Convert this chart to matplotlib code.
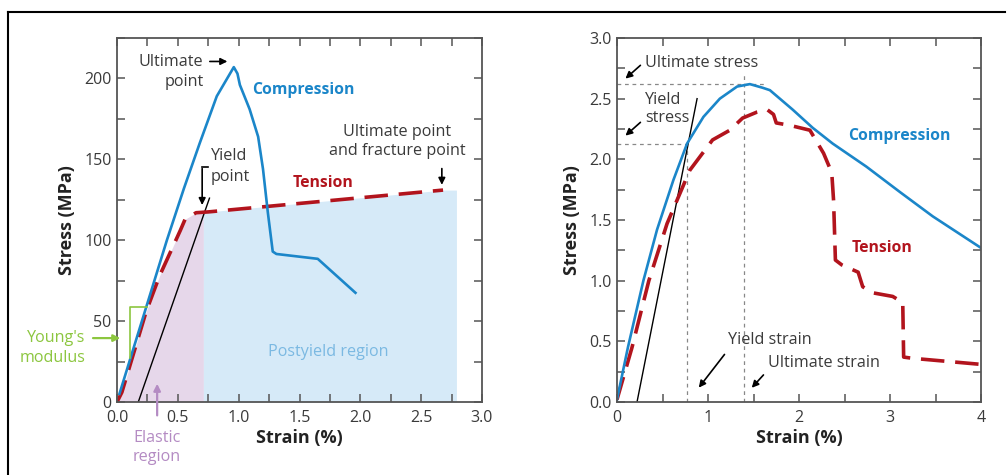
import numpy as np
import matplotlib.pyplot as plt
from matplotlib.lines import Line2D
from matplotlib.ticker import MultipleLocator

plt.rcParams['font.family'] = ['Open Sans', 'DejaVu Sans']

# left panel: stress in MPa vs strain in %
comp_l_x = [0.02, 0.41, 0.55, 0.68, 0.82, 0.96, 0.99, 1.01, 1.09, 1.16, 1.20, 1.24, 1.28, 1.31, 1.65, 1.96]
comp_l_y = [5, 100, 132, 160, 189, 207, 203, 196, 181, 164, 144, 117, 93, 91.5, 88.5, 67.5]
tens_l_x = [0.0, 0.04, 0.24, 0.35, 0.52, 0.56, 0.65, 0.75, 2.68]
tens_l_y = [0, 6, 56, 78, 106, 113, 117, 117.5, 131]
yield_l_x = [0.175, 0.76]
yield_l_y = [0, 126]
elastic_end = 0.71
postyield_end = 2.79
xticks_l = [0.0, 0.5, 1.0, 1.5, 2.0, 2.5, 3.0]
yticks_l = [0, 50, 100, 150, 200]

# right panel
comp_r_x = [0, 0.12, 0.29, 0.44, 0.62, 0.77, 0.95, 1.13, 1.32, 1.46, 1.60, 1.68, 1.93, 2.15,
            2.37, 2.74, 3.11, 3.47, 4.0]
comp_r_y = [0.02, 0.45, 1.0, 1.42, 1.83, 2.13, 2.35, 2.50, 2.60, 2.62, 2.59, 2.57, 2.41, 2.26,
            2.13, 1.94, 1.73, 1.53, 1.27]
tens_r_x = [0, 0.165, 0.35, 0.55, 0.80, 1.05, 1.24, 1.38, 1.54, 1.65, 1.72, 1.75, 1.90, 2.12, 2.27,
            2.36, 2.38, 2.40, 2.47, 2.65, 2.70, 2.81, 3.03, 3.14, 3.15, 3.25, 4.0]
tens_r_y = [0.02, 0.45, 1.0, 1.47, 1.91, 2.16, 2.24, 2.34, 2.39, 2.41, 2.37, 2.30, 2.28, 2.24, 2.05,
            1.89, 1.66, 1.17, 1.13, 1.07, 0.95, 0.90, 0.87, 0.82, 0.37, 0.36, 0.31]
yield_r_x = [0.22, 0.88]
yield_r_y = [0, 2.5]
ult_stress, ult_strain = 2.62, 1.40
yld_stress, yld_strain = 2.13, 0.77
xticks_r = [0, 1, 2, 3, 4]
yticks_r = [0.0, 0.5, 1.0, 1.5, 2.0, 2.5, 3.0]

BLUE = '#1b86c9'
RED = '#b2141d'
GREEN = '#8cc63f'
PURPLE = '#b48bc3'
GREY = '#3a3a3a'
FS = 11.6

fig = plt.figure(figsize=(10.08, 4.75), dpi=100)
ax1 = fig.add_axes([117/1008, 73/475, 365/1008, 364/475])
ax2 = fig.add_axes([617/1008, 73/475, 364/1008, 364/475])

# frame lines of the original picture
fig.add_artist(Line2D([8/1008, 1005/1008], [1 - 12/475] * 2, color='black', lw=1.5))
fig.add_artist(Line2D([8/1008] * 2, [0, 1 - 12/475], color='black', lw=1.5))


def style(ax):
    for s in ax.spines.values():
        s.set_color('#555555')
        s.set_linewidth(1.3)
    ax.tick_params(which='both', direction='in', top=True, right=True,
                   length=5.5, width=1.1, color='#555555', labelsize=11.5,
                   labelcolor=GREY, pad=4)
    ax.tick_params(axis='x', pad=6)
    ax.set_xlabel('Strain (%)', fontsize=13, fontweight='bold', color='#222222', labelpad=2)
    ax.set_ylabel('Stress (MPa)', fontsize=13, fontweight='bold', color='#222222', labelpad=6)


# ---- left ----
xt = np.array(tens_l_x)
yt = np.array(tens_l_y)
xe = np.linspace(0, elastic_end, 60)
ax1.fill_between(xe, 0, np.interp(xe, xt, yt), color='#e6d7ea', lw=0)
xp = np.linspace(elastic_end, postyield_end, 100)
ax1.fill_between(xp, 0, np.interp(xp, xt, yt), color='#d6eaf8', lw=0)
ax1.plot(yield_l_x, yield_l_y, color='black', lw=1)
ax1.plot(tens_l_x, tens_l_y, color=RED, lw=2.6, dashes=(6.5, 3))
ax1.plot(comp_l_x, comp_l_y, color=BLUE, lw=1.9)
ax1.set_xlim(0, 3.0)
ax1.set_ylim(0, 225)
ax1.set_xticks(xticks_l)
ax1.set_xticklabels(['%.1f' % v for v in xticks_l])
ax1.set_yticks(yticks_l)
ax1.xaxis.set_minor_locator(MultipleLocator(0.25))
ax1.yaxis.set_minor_locator(MultipleLocator(25))
style(ax1)

txt = dict(fontsize=FS, color=GREY)
arr = dict(arrowstyle='-|>', color='black', lw=1.2, mutation_scale=10)
ax1.text(0.71, 210, 'Ultimate', ha='right', va='center', **txt)
ax1.text(0.71, 198, 'point', ha='right', va='center', **txt)
ax1.annotate('', xy=(0.93, 210.5), xytext=(0.74, 210.5), arrowprops=arr)
ax1.text(1.11, 193, 'Compression', color=BLUE, fontsize=11.3, fontweight='bold', va='center')
ax1.text(0.77, 152, 'Yield', ha='left', va='center', **txt)
ax1.text(0.77, 139, 'point', ha='left', va='center', **txt)
ax1.plot([0.70, 0.745], [145.5, 145.5], color='black', lw=1.2)
ax1.annotate('', xy=(0.70, 120), xytext=(0.70, 146), arrowprops=arr)
ax1.text(1.44, 135.5, 'Tension', color=RED, fontsize=11.3, fontweight='bold', va='center')
ax1.text(2.3, 167, 'Ultimate point', ha='center', va='center', **txt)
ax1.text(2.3, 155, 'and fracture point', ha='center', va='center', **txt)
ax1.annotate('', xy=(2.67, 132.5), xytext=(2.67, 146), arrowprops=arr)
ax1.text(1.74, 31, 'Postyield region', ha='center', va='center', fontsize=FS, color='#7bb9e2')
ax1.text(-0.26, 39.5, "Young's", ha='right', va='center', fontsize=FS, color=GREEN)
ax1.text(-0.26, 27.5, 'modulus', ha='right', va='center', fontsize=FS, color=GREEN)
ax1.annotate('', xy=(0.05, 39.5), xytext=(-0.22, 39.5), annotation_clip=False,
             arrowprops=dict(arrowstyle='-|>', color=GREEN, lw=1.6, mutation_scale=10))
ax1.plot([0.245, 0.107, 0.107], [59, 59, 27], color=GREEN, lw=1.2, clip_on=False)
ax1.annotate('', xy=(0.33, 13), xytext=(0.33, -10), annotation_clip=False,
             arrowprops=dict(arrowstyle='-|>', color=PURPLE, lw=1.6, mutation_scale=10))
ax1.text(0.33, -22, 'Elastic', ha='center', va='center', fontsize=FS, color=PURPLE, clip_on=False)
ax1.text(0.33, -34, 'region', ha='center', va='center', fontsize=FS, color=PURPLE, clip_on=False)

# ---- right ----
ax2.plot([0, 1.65], [ult_stress, ult_stress], color='#888888', lw=0.9, dashes=(3, 3))
ax2.plot([0, yld_strain], [yld_stress, yld_stress], color='#888888', lw=0.9, dashes=(3, 3))
ax2.plot([ult_strain, ult_strain], [0, 2.72], color='#888888', lw=0.9, dashes=(3, 3))
ax2.plot([yld_strain, yld_strain], [0, yld_stress], color='#888888', lw=0.9, dashes=(3, 3))
ax2.plot(yield_r_x, yield_r_y, color='black', lw=1)
ax2.plot(tens_r_x, tens_r_y, color=RED, lw=2.6, dashes=(6.5, 3))
ax2.plot(comp_r_x, comp_r_y, color=BLUE, lw=1.9)
ax2.set_xlim(0, 4)
ax2.set_ylim(0, 3.0)
ax2.set_xticks(xticks_r)
ax2.set_yticks(yticks_r)
ax2.set_yticklabels(['%.1f' % v for v in yticks_r])
ax2.xaxis.set_minor_locator(MultipleLocator(0.5))
ax2.yaxis.set_minor_locator(MultipleLocator(0.25))
style(ax2)

ax2.text(0.31, 2.79, 'Ultimate stress', ha='left', va='center', **txt)
ax2.annotate('', xy=(0.07, 2.65), xytext=(0.28, 2.79), arrowprops=arr)
ax2.text(0.31, 2.49, 'Yield', ha='left', va='center', **txt)
ax2.text(0.31, 2.34, 'stress', ha='left', va='center', **txt)
ax2.annotate('', xy=(0.07, 2.18), xytext=(0.28, 2.32), arrowprops=arr)
ax2.text(2.54, 2.19, 'Compression', color=BLUE, fontsize=11.3, fontweight='bold', va='center')
ax2.text(2.58, 1.27, 'Tension', color=RED, fontsize=11.3, fontweight='bold', va='center')
ax2.text(1.22, 0.51, 'Yield strain', ha='left', va='center', **txt)
ax2.annotate('', xy=(0.88, 0.10), xytext=(1.20, 0.41), arrowprops=arr)
ax2.text(1.66, 0.32, 'Ultimate strain', ha='left', va='center', **txt)
ax2.annotate('', xy=(1.46, 0.10), xytext=(1.63, 0.24), arrowprops=arr)

fig.savefig('out.png', dpi=100)
